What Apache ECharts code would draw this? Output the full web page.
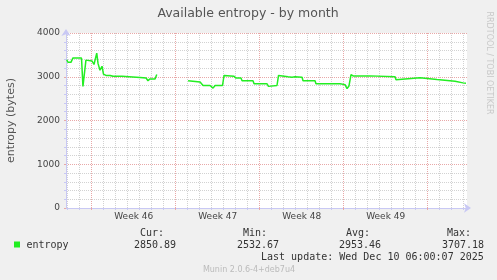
<!DOCTYPE html>
<html>
<head>
<meta charset="utf-8">
<script src="https://cdn.jsdelivr.net/npm/echarts@6/dist/echarts.min.js"></script>
<style>
html,body{margin:0;padding:0;background:#f0f0f0;}
#c{width:497px;height:280px;}
</style>
</head>
<body>
<div id="c"></div>
<script>
// ---- data (x = days since Monday of week 46) ----
const days = [
  -2.08,-1.98,-1.73,-1.56,-0.85,-0.73,-0.48,0.03,0.19,0.28,0.42,0.53,0.69,0.86,0.98,1.19,1.53,1.78,2.53,2.61,4.03,4.53,4.69,4.86,5.28,5.42,
  6.7,
  8.03,8.19,9.03,9.28,9.86,10.11,10.28,10.9,11.03,11.86,12.03,12.44,12.53,13.44,13.53,14.61,14.73,14.86,15.44,15.57,16.36,16.69,16.94,17.53,17.61,18.61,18.69,20.69,21.11,21.28,21.44,21.61,21.78,23.19,23.28,25.28,25.36,25.44,27.36,27.44,28.78,28.86,30.28,30.36,30.94,31.03,31.19
];
const entropy = [
  3390,3330,3330,3430,3430,2780,3380,3360,3280,3260,3540,3300,3150,3240,3060,3030,3030,3010,3010,2985,2985,2970,2910,2950,2950,3050,
  null,
  2910,2880,2880,2800,2800,2740,2800,2800,3030,3010,2970,2970,2910,2910,2840,2840,2780,2800,2800,3030,3000,2990,3000,2990,2910,2910,2840,2840,2820,2730,2790,3050,3020,3020,3000,3000,2930,2975,2975,2935,2935,2895,2895,2860,2860,2820,2850
];
const weekLabels = ['Week 46','Week 47','Week 48','Week 49'];
const weekCenters = [3.5, 10.5, 17.5, 24.5];
const weekStarts = [0, 7, 14, 21, 28];
const seriesName = 'entropy';
const statLabels = ['Cur:', 'Min:', 'Avg:', 'Max:'];
const statValues = ['2850.89', '2532.67', '2953.46', '3707.18'];
const lastUpdate = 'Last update: Wed Dec 10 06:00:07 2025';
const titleText = 'Available entropy - by month';
const yName = 'entropy (bytes)';
const footer = 'Munin 2.0.6-4+deb7u4';
const sideText = 'RRDTOOL / TOBI OETIKER';

const X_MIN = -2.142, X_MAX = 31.275;
const dayLines = [];
for (let d = -2; d <= 31; d++) if (weekStarts.indexOf(d) < 0) dayLines.push(d);

const LINE = '#22ee22';
const AXIS = '#c8c8f4';
const MINOR = '#d2d2d2';
const MAJOR = '#e8a8a8';
const mono = 'DejaVu Sans Mono';
const sans = 'DejaVu Sans';

const chart = echarts.init(document.getElementById('c'), null, {renderer: 'canvas'});

const statX = [[140,134],[243,237],[346,339],[447,442]];
const graphics = [
  {type:'rect', z:-10, silent:true, shape:{x:66,y:33,width:401,height:175}, style:{fill:'#ffffff'}},
  {type:'text', x:248, y:14, style:{text:titleText, font:'12.5px ' + sans, fill:'#555', align:'center', verticalAlign:'middle'}},
  {type:'text', x:11, y:120.5, rotation:Math.PI/2, style:{text:yName, font:'11px ' + sans, fill:'#555', align:'center', verticalAlign:'middle'}},
  {type:'text', x:489, y:63, rotation:-Math.PI/2, style:{text:sideText, font:'8px ' + sans, fill:'#c8c8c8', align:'center', verticalAlign:'middle'}},
  {type:'rect', shape:{x:14,y:241.5,width:6,height:6}, style:{fill:LINE}},
  {type:'text', x:26.5, y:245, style:{text:seriesName, font:'10px ' + mono, fill:'#333', align:'left', verticalAlign:'middle'}},
  {type:'text', x:261, y:257.5, style:{text:lastUpdate, font:'10px ' + mono, fill:'#333', align:'left', verticalAlign:'middle'}},
  {type:'text', x:249, y:269.5, style:{text:footer, font:'8px ' + sans, fill:'#bbbbbb', align:'center', verticalAlign:'middle'}}
];
statLabels.forEach((s, i) => {
  graphics.push({type:'text', x:statX[i][0], y:233.5, style:{text:s, font:'10px ' + mono, fill:'#333', align:'left', verticalAlign:'middle'}});
  graphics.push({type:'text', x:statX[i][1], y:245, style:{text:statValues[i], font:'10px ' + mono, fill:'#333', align:'left', verticalAlign:'middle'}});
});

const option = {
  backgroundColor: '#f0f0f0',
  animation: false,
  graphic: graphics,
  grid: {left:66, right:30, top:33, bottom:72, containLabel:false},
  xAxis: [
    {
      type:'value', min:X_MIN, max:X_MAX,
      axisLine:{show:true, onZero:false, lineStyle:{color:AXIS, width:1}, symbol:['none','arrow'], symbolSize:[7,7], symbolOffset:[0,4]},
      axisTick:{show:true, customValues:dayLines, length:2, inside:false, lineStyle:{color:AXIS}},
      axisLabel:{show:true, customValues:weekCenters, margin:4, color:'#444', fontFamily:sans, fontSize:9,
        formatter:(v)=>{const i = weekCenters.indexOf(v); return i >= 0 ? weekLabels[i] : '';}},
      splitLine:{show:true, lineStyle:{color:MINOR, type:[1,1], width:1}}
    },
    {
      type:'value', min:X_MIN, max:X_MAX, position:'bottom',
      axisLine:{show:false, onZero:false},
      axisTick:{show:true, customValues:weekStarts, length:2, lineStyle:{color:MAJOR}},
      axisLabel:{show:false},
      splitLine:{show:true, lineStyle:{color:MAJOR, type:[1,1], width:1}}
    }
  ],
  yAxis: [
    {
      type:'value', min:0, max:4000, interval:200,
      axisLine:{show:true, onZero:false, lineStyle:{color:AXIS, width:1}, symbol:['none','arrow'], symbolSize:[7,7], symbolOffset:[0,4]},
      axisTick:{show:true, length:2, lineStyle:{color:AXIS}},
      axisLabel:{show:true, margin:6, color:'#444', fontFamily:sans, fontSize:9,
        formatter:(v)=> (v % 1000 === 0 ? String(v) : '')},
      splitLine:{show:true, lineStyle:{color:MINOR, type:[1,1], width:1}}
    },
    {
      type:'value', min:0, max:4000, interval:1000, position:'left',
      axisLine:{show:false, onZero:false}, axisTick:{show:true, length:2, lineStyle:{color:MAJOR}}, axisLabel:{show:false},
      splitLine:{show:true, lineStyle:{color:MAJOR, type:[1,1], width:1}}
    }
  ],
  series: [
    {
      name: seriesName, type:'line', z:5,
      data: days.map((d, i) => [d, entropy[i]]),
      showSymbol:false, connectNulls:false,
      lineStyle:{color:LINE, width:1.5},
      itemStyle:{color:LINE}
    }
  ]
};
chart.setOption(option);
</script>
</body>
</html>
